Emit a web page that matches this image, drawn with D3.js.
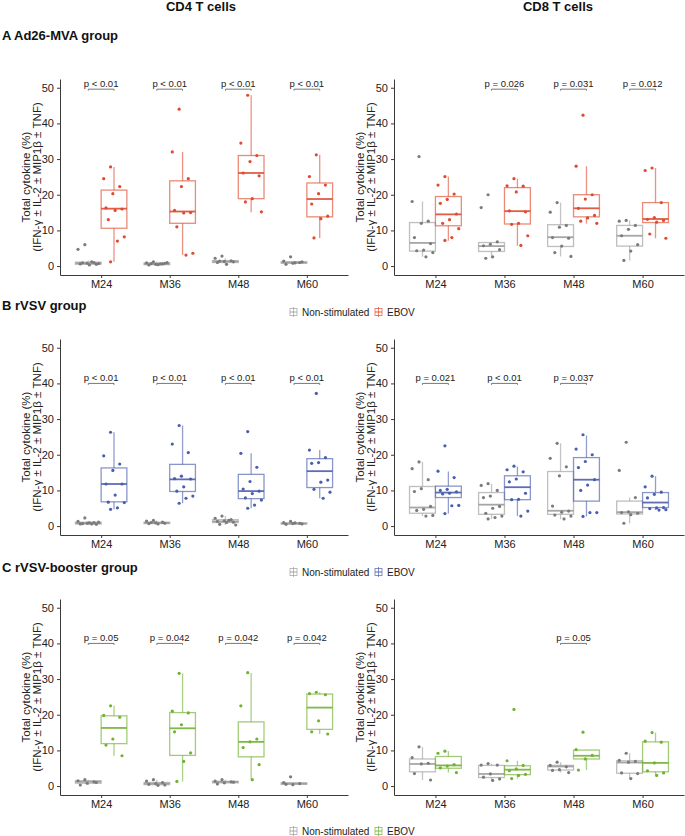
<!DOCTYPE html>
<html lang="en">
<head>
<meta charset="utf-8">
<title>Total cytokine</title>
<script src="https://d3js.org/d3.v7.min.js"></script>
<style>
  body { margin: 0; background: #fff; }
  text { font-family: "Liberation Sans", Arial, sans-serif; }
</style>
</head>
<body>
<div id="chart"></div>
<script>
// categories / labels
var months = ["M24", "M36", "M48", "M60"];
var stimGroups = ["Non-stimulated", "EBOV"];
var yTicks = [0, 10, 20, 30, 40, 50];
var cellTitles = ["CD4 T cells", "CD8 T cells"];
var groupTitles = ["A Ad26-MVA group", "B rVSV group", "C rVSV-booster group"];
var groupColors = ["#DE4B30", "#4A5EAD", "#72B133"];
var bracketLevels = [49.6, 40, 40];

// box stats per month: [lower whisker, q1, median, q3, upper whisker]
// Ad26-MVA
var adCd4NonBox = [[0.2,0.5,0.8,1.1,1.6],[0.2,0.4,0.6,0.9,1.3],[0.6,1.0,1.3,1.5,2.2],[0.5,0.8,1.0,1.2,1.5]];
var adCd4NonPts = [[6.0,4.7,1.0,0.8,0.6,0.5,0.3,0.9,0.7,1.2],[1.2,0.9,0.6,0.5,0.3,0.8,0.4,0.7,1.0,0.6],[2.8,2.2,1.5,1.3,1.0,1.2,0.5,1.4],[2.6,1.4,1.0,0.8,0.5,1.2,0.9]];
var adCd4EbovBox = [[1.2,10.6,16.1,21.3,27.8],[3.1,12.0,15.3,23.9,32.0],[15.1,18.9,26.1,31.0,47.9],[7.9,13.8,18.8,23.3,31.2]];
var adCd4EbovPts = [[27.8,24.5,22.3,20.3,16.3,16.0,15.6,13.0,8.2,7.0,1.2],[44.0,32.0,24.5,22.3,15.6,15.0,14.9,11.0,3.6,3.1],[47.9,34.5,31.0,29.3,26.1,25.3,18.9,18.0,15.2],[31.2,25.1,22.7,20.3,17.4,14.0,13.3,7.9]];
var adCd8NonBox = [[2.6,4.2,6.5,12.2,18.1],[2.2,4.1,5.6,6.6,6.8],[2.7,5.5,8.1,11.6,17.8],[1.6,5.6,8.5,11.4,12.8]];
var adCd8NonPts = [[30.7,18.1,12.6,12.0,8.0,6.3,4.5,4.3,3.8,2.6],[20.0,16.4,6.8,6.1,5.7,4.6,2.6,2.2],[17.8,15.1,11.4,10.9,8.0,7.8,5.6,3.8,2.7],[12.8,12.6,11.4,10.3,8.5,6.0,4.2,1.6]];
var adCd8EbovBox = [[7.1,11.3,14.5,19.5,25.1],[5.7,11.8,15.4,22.0,24.5],[11.9,13.8,16.2,20.0,28.0],[7.8,12.2,13.2,17.8,27.5]];
var adCd8EbovPts = [[25.1,22.7,20.2,18.7,17.6,14.6,13.0,12.0,10.5,8.0,7.2],[24.5,22.5,22.4,20.8,15.5,15.2,12.0,11.7,8.5,5.8],[42.3,28.0,20.0,18.8,16.2,14.2,13.5,12.6,12.0],[27.5,26.8,17.8,13.6,13.1,12.8,12.3,9.0,7.8]];
var adCd4P = ["p < 0.01", "p < 0.01", "p < 0.01", "p < 0.01"];
var adCd8P = [null, "p = 0.026", "p = 0.031", "p = 0.012"];

// rVSV
var rvCd4NonBox = [[0.4,0.6,0.8,1.1,1.4],[0.6,0.7,0.9,1.1,1.6],[0.3,1.0,1.3,1.8,2.8],[0.5,0.6,0.7,0.9,1.3]];
var rvCd4NonPts = [[2.3,1.3,1.0,0.8,0.6,0.5,0.9,0.7,1.1,0.6],[1.6,1.4,1.1,0.9,0.7,0.8,0.6,1.0],[2.8,2.2,1.8,1.5,1.3,1.1,1.0,0.5,0.3,1.6],[1.3,1.0,0.8,0.7,0.5,0.6,0.9]];
var rvCd4EbovBox = [[4.7,6.8,11.8,16.3,26.3],[6.4,9.7,13.1,17.3,28.2],[5.0,7.7,9.8,14.5,20.4],[7.8,10.8,15.4,18.9,21.3]];
var rvCd4EbovPts = [[26.3,19.7,17.4,15.6,11.8,11.8,8.7,6.7,6.6,5.1,4.7],[28.2,23.0,20.6,14.0,13.3,13.2,11.0,9.8,8.4,7.8,6.4],[26.5,20.4,16.5,12.5,10.4,9.8,9.1,7.9,7.3,5.9,5.0],[37.2,21.3,19.2,17.8,17.6,12.9,12.3,10.3,9.5,7.8]];
var rvCd8NonBox = [[2.8,3.6,5.2,11.1,18.0],[2.0,3.3,6.0,9.4,11.9],[1.9,3.3,4.3,15.3,23.2],[0.8,3.4,3.9,7.0,8.0]];
var rvCd8NonPts = [[18.0,16.1,13.0,10.5,9.7,5.5,4.7,4.4,3.0,2.8],[11.9,11.4,10.0,8.4,8.0,5.5,5.0,3.6,2.8,2.4,2.0],[23.2,19.0,16.6,14.1,5.6,4.2,3.9,3.1,2.8,2.0],[23.5,15.6,8.0,4.0,3.8,3.6,3.2,0.8]];
var rvCd8EbovBox = [[3.5,8.0,9.4,11.2,15.3],[2.8,7.4,10.9,14.1,16.7],[2.7,7.0,13.0,19.2,25.4],[4.5,5.2,6.6,9.4,14.0]];
var rvCd8EbovPts = [[22.5,15.4,13.6,10.3,10.0,9.6,9.2,9.0,5.8,5.7,3.5],[16.8,15.8,15.2,13.2,12.4,9.2,7.5,7.4,4.2,2.8],[25.6,21.6,20.0,18.1,16.4,13.0,11.5,10.0,3.8,3.8,2.7],[14.0,11.0,9.5,8.9,7.9,5.2,5.1,4.9,4.6,4.5]];
var rvCd4P = ["p < 0.01", "p < 0.01", "p < 0.01", "p < 0.01"];
var rvCd8P = ["p = 0.021", "p < 0.01", "p = 0.037", null];

// rVSV-booster
var bsCd4NonBox = [[0.3,0.8,1.2,1.5,1.8],[0.2,0.4,0.7,1.0,1.8],[0.6,0.9,1.2,1.3,1.8],[0.4,0.5,0.7,0.9,1.0]];
var bsCd4NonPts = [[1.8,1.5,1.2,0.8,0.3,1.0],[1.8,1.4,1.0,0.7,0.5,0.3,0.2],[1.8,1.4,1.2,0.9,0.6,1.1],[2.6,1.0,0.7,0.4,0.5]];
var bsCd4EbovBox = [[8.5,11.9,16.3,19.7,22.5],[1.3,8.6,16.2,20.6,31.6],[1.8,8.2,12.4,18.0,31.7],[14.6,15.9,22.0,25.8,26.3]];
var bsCd4EbovPts = [[22.5,19.8,19.3,13.2,11.5,8.5],[31.6,21.0,20.5,17.2,15.2,9.3,6.9,1.3],[31.8,22.5,13.2,12.4,10.8,6.0,1.8],[26.3,25.9,25.6,18.3,15.2,14.6]];
var bsCd8NonBox = [[1.7,4.0,6.2,7.6,11.0],[1.6,2.4,3.4,5.8,6.3],[3.8,4.5,5.5,5.8,6.7],[2.1,3.6,6.6,7.1,9.2]];
var bsCd8NonPts = [[11.0,8.0,6.4,6.2,3.5,1.7],[6.3,5.9,5.9,3.4,2.5,2.0,1.6],[6.7,5.8,5.4,4.6,4.4,3.8],[9.2,7.2,6.9,6.7,3.7,3.5,2.1]];
var bsCd8EbovBox = [[3.8,5.0,5.8,8.3,9.8],[2.1,3.2,4.6,5.7,7.1],[4.5,7.6,8.5,10.1,10.2],[3.0,4.0,6.5,12.4,15.0]];
var bsCd8EbovPts = [[9.8,9.2,6.0,5.6,5.1,3.8],[21.5,7.1,5.8,4.8,4.3,3.3,3.0,2.1],[15.1,10.2,8.6,7.6,4.5],[15.0,12.6,12.3,6.5,4.3,3.7,3.0]];
var bsCd4P = ["p = 0.05", "p = 0.042", "p = 0.042", "p = 0.042"];
var bsCd8P = [null, null, "p = 0.05", null];

// panels, row by row (left = CD4, right = CD8)
var panels = [
  { row: 0, col: 0, nonBox: adCd4NonBox, nonPts: adCd4NonPts, ebBox: adCd4EbovBox, ebPts: adCd4EbovPts, p: adCd4P },
  { row: 0, col: 1, nonBox: adCd8NonBox, nonPts: adCd8NonPts, ebBox: adCd8EbovBox, ebPts: adCd8EbovPts, p: adCd8P },
  { row: 1, col: 0, nonBox: rvCd4NonBox, nonPts: rvCd4NonPts, ebBox: rvCd4EbovBox, ebPts: rvCd4EbovPts, p: rvCd4P },
  { row: 1, col: 1, nonBox: rvCd8NonBox, nonPts: rvCd8NonPts, ebBox: rvCd8EbovBox, ebPts: rvCd8EbovPts, p: rvCd8P },
  { row: 2, col: 0, nonBox: bsCd4NonBox, nonPts: bsCd4NonPts, ebBox: bsCd4EbovBox, ebPts: bsCd4EbovPts, p: bsCd4P },
  { row: 2, col: 1, nonBox: bsCd8NonBox, nonPts: bsCd8NonPts, ebBox: bsCd8EbovBox, ebPts: bsCd8EbovPts, p: bsCd8P }
];

var W = 685, H = 836;
var rowTop = [79, 339, 599], panelH = 196;
var colX = [[60, 348], [394, 684]];
var legendY = [312, 572, 831];
var axisCol = "#3a3a3a", greyBox = "#9c9c9c", greyPt = "#7b7b7b";

var svg = d3.select("#chart").append("svg")
  .attr("width", W).attr("height", H);
svg.append("rect").attr("width", W).attr("height", H).attr("fill", "#fff");

// column titles
svg.selectAll(".coltitle").data(cellTitles).enter().append("text")
  .attr("x", function(d, i) { return i == 0 ? 201 : 558; })
  .attr("y", 11)
  .attr("text-anchor", "middle")
  .attr("font-size", 13).attr("font-weight", "bold").attr("fill", "#111")
  .text(function(d) { return d; });

// group titles
var titleY = [39.5, 309.5, 571.5];
svg.selectAll(".grptitle").data(groupTitles).enter().append("text")
  .attr("x", 2)
  .attr("y", function(d, i) { return titleY[i]; })
  .attr("font-size", 13).attr("font-weight", "bold").attr("fill", "#111")
  .text(function(d) { return d; });

// small jitter pattern, deterministic
function jit(i) { return ((i * 7 + 3) % 10) / 9 - 0.5; }

panels.forEach(function(pn) {
  var top = rowTop[pn.row], bottom = top + panelH;
  var x0 = colX[pn.col][0], x1 = colX[pn.col][1];
  var color = groupColors[pn.row];

  var x = d3.scalePoint().domain(months).range([x0, x1]).padding(0.6);
  var step = x.step();
  var xs = d3.scaleBand().domain(stimGroups).range([-0.375 * step, 0.375 * step]);
  var bw = xs.bandwidth();
  var y = d3.scaleLinear().domain([-2.5, 52.45]).range([bottom, top]);

  var g = svg.append("g");

  // y axis
  var ya = g.append("g").attr("transform", "translate(" + x0 + ",0)")
    .call(d3.axisLeft(y).tickValues(yTicks).tickSize(3).tickSizeOuter(0).tickPadding(3));
  ya.select(".domain").attr("stroke", axisCol).attr("stroke-width", 1);
  ya.selectAll(".tick line").attr("stroke", axisCol);
  ya.selectAll(".tick text").attr("font-size", 11).attr("fill", "#222")
    .attr("font-family", "Liberation Sans, Arial, sans-serif");

  // x axis
  var xa = g.append("g").attr("transform", "translate(0," + bottom + ")")
    .call(d3.axisBottom(x).tickSize(3).tickSizeOuter(0).tickPadding(2));
  xa.select(".domain").attr("stroke", axisCol).attr("stroke-width", 1);
  xa.selectAll(".tick line").attr("stroke", axisCol);
  xa.selectAll(".tick text").attr("font-size", 11).attr("fill", "#222")
    .attr("font-family", "Liberation Sans, Arial, sans-serif");

  // y axis title, two lines
  var cy = (top + bottom) / 2;
  var yt = g.append("text")
    .attr("transform", "translate(" + (x0 - 30) + "," + cy + ") rotate(-90)")
    .attr("text-anchor", "middle").attr("font-size", 11.5).attr("fill", "#222");
  yt.append("tspan").attr("x", 0).attr("dy", 0).text("Total cytokine (%)");
  yt.append("tspan").attr("x", 0).attr("dy", 10.5).text("(IFN-\u03B3 \u00B1 IL-2 \u00B1 MIP1\u03B2 \u00B1 TNF)");

  // boxes
  var sets = [
    { key: "Non-stimulated", box: pn.nonBox, pts: pn.nonPts, stroke: greyBox, pt: greyPt },
    { key: "EBOV", box: pn.ebBox, pts: pn.ebPts, stroke: color, pt: color }
  ];

  sets.forEach(function(s) {
    months.forEach(function(m, mi) {
      var b = s.box[mi];
      var cx = x(m) + xs(s.key) + bw / 2;
      var bg = g.append("g");
      // whiskers
      bg.append("line").attr("x1", cx).attr("x2", cx).attr("y1", y(b[0])).attr("y2", y(b[1]))
        .attr("stroke", s.stroke).attr("stroke-opacity", 0.6).attr("stroke-width", 1.3);
      bg.append("line").attr("x1", cx).attr("x2", cx).attr("y1", y(b[3])).attr("y2", y(b[4]))
        .attr("stroke", s.stroke).attr("stroke-opacity", 0.6).attr("stroke-width", 1.3);
      // box
      bg.append("rect")
        .attr("x", cx - bw / 2).attr("width", bw)
        .attr("y", y(b[3])).attr("height", Math.max(0.5, y(b[1]) - y(b[3])))
        .attr("fill", "none").attr("stroke", s.stroke).attr("stroke-opacity", 0.65).attr("stroke-width", 1.3);
      // median
      bg.append("line").attr("x1", cx - bw / 2).attr("x2", cx + bw / 2)
        .attr("y1", y(b[2])).attr("y2", y(b[2]))
        .attr("stroke", s.stroke).attr("stroke-opacity", 0.9).attr("stroke-width", 1.8);
      // points
      bg.selectAll("circle").data(s.pts[mi]).enter().append("circle")
        .attr("cx", function(d, i) { return cx + jit(i) * bw * 0.8; })
        .attr("cy", function(d) { return y(d); })
        .attr("r", 1.6)
        .attr("fill", s.pt);
    });
  });

  // p-value brackets
  var lvl = bracketLevels[pn.row];
  months.forEach(function(m, mi) {
    var lab = pn.p[mi];
    if (!lab) return;
    var xa1 = x(m) + xs("Non-stimulated") + bw / 2;
    var xa2 = x(m) + xs("EBOV") + bw / 2;
    var yy = y(lvl);
    g.append("path")
      .attr("d", "M" + xa1 + "," + (yy + 1.5) + "V" + yy + "H" + xa2 + "V" + (yy + 1.5))
      .attr("fill", "none").attr("stroke", "#555").attr("stroke-width", 0.8);
    g.append("text")
      .attr("x", (xa1 + xa2) / 2).attr("y", yy - 2.5)
      .attr("text-anchor", "middle").attr("font-size", 9.5).attr("fill", "#222")
      .text(lab);
  });
});

// legends
legendY.forEach(function(ly, li) {
  var lg = svg.append("g");
  var items = [
    { label: stimGroups[0], color: greyBox, x: 290 },
    { label: stimGroups[1], color: groupColors[li], x: 375 }
  ];
  items.forEach(function(it) {
    lg.append("rect").attr("x", it.x).attr("y", ly - 3.5).attr("width", 7).attr("height", 7)
      .attr("fill", "none").attr("stroke", it.color).attr("stroke-opacity", 0.75).attr("stroke-width", 0.9);
    lg.append("line").attr("x1", it.x).attr("x2", it.x + 7).attr("y1", ly).attr("y2", ly)
      .attr("stroke", it.color).attr("stroke-width", 0.9);
    lg.append("line").attr("x1", it.x + 3.5).attr("x2", it.x + 3.5).attr("y1", ly - 5).attr("y2", ly + 5)
      .attr("stroke", it.color).attr("stroke-opacity", 0.75).attr("stroke-width", 0.9);
    lg.append("text").attr("x", it.x + 12).attr("y", ly + 3.6)
      .attr("font-size", 10).attr("fill", "#222").text(it.label);
  });
});
</script>
</body>
</html>
